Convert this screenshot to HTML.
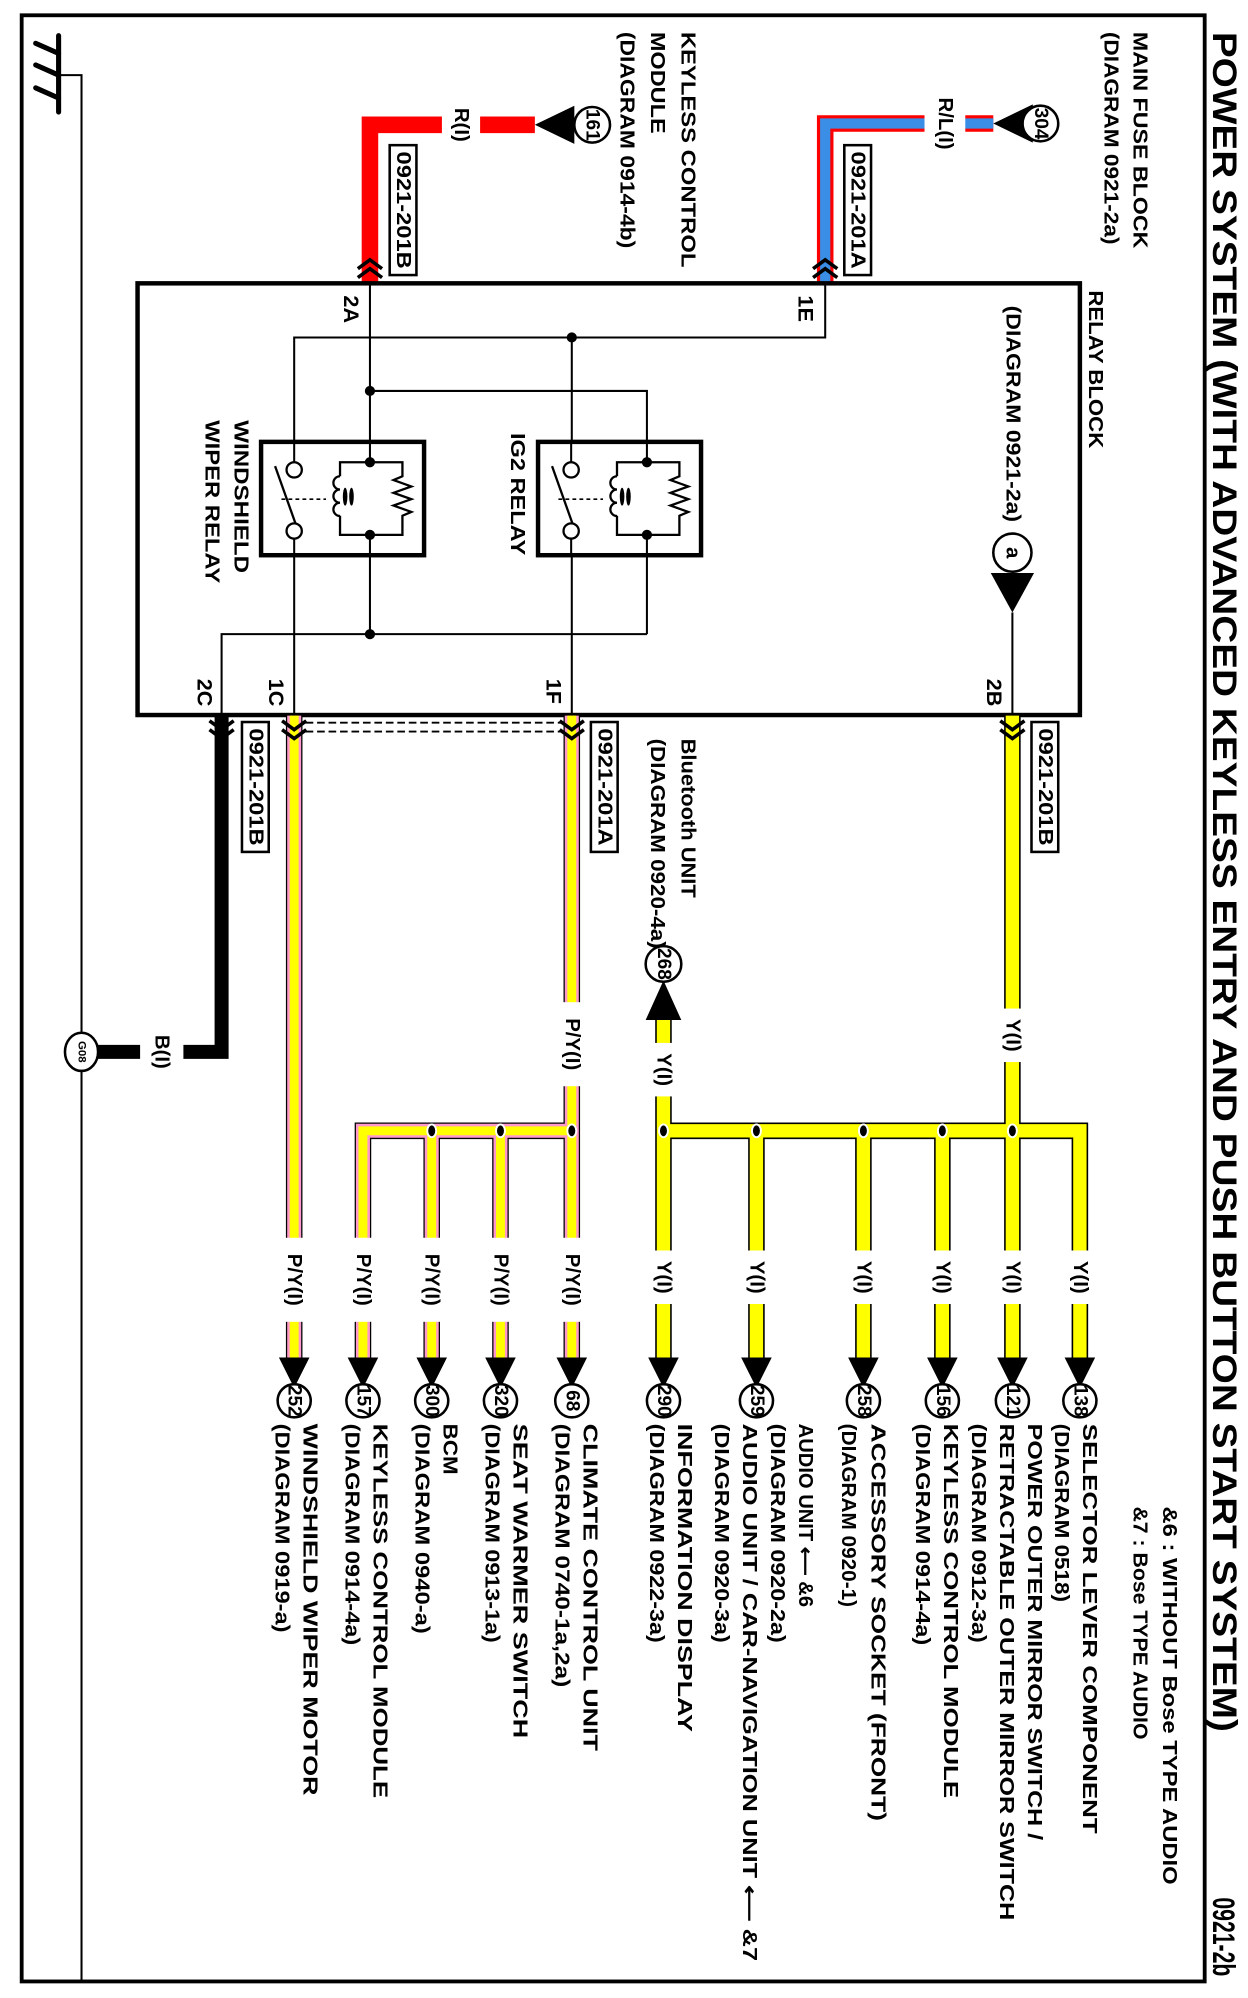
<!DOCTYPE html>
<html><head><meta charset="utf-8">
<style>
html,body{margin:0;padding:0;background:#fff;}
svg{display:block;}
.t{font-family:"Liberation Sans",Arial,sans-serif;font-weight:bold;fill:#000;dominant-baseline:central;}
.m{text-anchor:middle;}
</style></head>
<body>
<svg width="1248" height="1998" viewBox="0 0 980 1569" xmlns="http://www.w3.org/2000/svg">
<rect x="0" y="0" width="980" height="1569" fill="#fff"/>
<rect x="17" y="12" width="929" height="1544" fill="none" stroke="#000" stroke-width="3"/>
<g stroke="#000" stroke-width="4" stroke-linecap="round">
<line x1="46" y1="28" x2="46" y2="88"/>
<line x1="28" y1="34" x2="46" y2="42"/>
<line x1="28" y1="51" x2="46" y2="59"/>
<line x1="28" y1="69" x2="46" y2="77"/>
</g>
<path d="M46 59 H64 V1556" fill="none" stroke="#000" stroke-width="1.6"/>

<text class="t" font-size="27" transform="translate(961,25) rotate(90)" textLength="1335" lengthAdjust="spacingAndGlyphs">POWER SYSTEM (WITH ADVANCED KEYLESS ENTRY AND PUSH BUTTON START SYSTEM)</text>
<text class="t" font-size="25" transform="translate(961,1490) rotate(90)" textLength="62" lengthAdjust="spacingAndGlyphs">0921-2b</text>
<text class="t" font-size="16" transform="translate(918,1183) rotate(90)" textLength="297" lengthAdjust="spacingAndGlyphs">&amp;6 : WITHOUT Bose TYPE AUDIO</text>
<text class="t" font-size="16" transform="translate(895,1183) rotate(90)" textLength="183" lengthAdjust="spacingAndGlyphs">&amp;7 : Bose TYPE AUDIO</text>

<text class="t" font-size="16" transform="translate(895,25) rotate(90)" textLength="170" lengthAdjust="spacingAndGlyphs">MAIN FUSE BLOCK</text>
<text class="t" font-size="16" transform="translate(872,25) rotate(90)" textLength="167" lengthAdjust="spacingAndGlyphs">(DIAGRAM 0921-2a)</text>
<text class="t" font-size="16" transform="translate(860,228) rotate(90)" textLength="124" lengthAdjust="spacingAndGlyphs">RELAY BLOCK</text>
<text class="t" font-size="16" transform="translate(795,240) rotate(90)" textLength="170" lengthAdjust="spacingAndGlyphs">(DIAGRAM 0921-2a)</text>
<text class="t" font-size="16" transform="translate(540,25) rotate(90)" textLength="185" lengthAdjust="spacingAndGlyphs">KEYLESS CONTROL</text>
<text class="t" font-size="16" transform="translate(516,25) rotate(90)" textLength="80" lengthAdjust="spacingAndGlyphs">MODULE</text>
<text class="t" font-size="16" transform="translate(492,25) rotate(90)" textLength="170" lengthAdjust="spacingAndGlyphs">(DIAGRAM 0914-4b)</text>
<text class="t" font-size="16" transform="translate(540,580) rotate(90)" textLength="125" lengthAdjust="spacingAndGlyphs">Bluetooth UNIT</text>
<text class="t" font-size="16" transform="translate(516,580) rotate(90)" textLength="165" lengthAdjust="spacingAndGlyphs">(DIAGRAM 0920-4a)</text>

<path d="M420 98 H290.5 V222" fill="none" stroke="#f00" stroke-width="13"/>
<path d="M780 97 H648 V222" fill="none" stroke="#f00" stroke-width="13"/>
<path d="M780 97 H648 V222" fill="none" stroke="#3a8ee6" stroke-width="8"/>
<rect x="347" y="86" width="30" height="24" fill="#fff"/>
<rect x="726" y="85" width="32" height="24" fill="#fff"/>
<text class="t m" font-size="16" transform="translate(362,98) rotate(90)">R(I)</text>
<text class="t m" font-size="16" transform="translate(742,97) rotate(90)">R/L(I)</text>
<polygon points="420,98 451,83 451,113" fill="#000"/>
<circle cx="465" cy="98" r="14" fill="#fff" stroke="#000" stroke-width="2"/>
<text class="t m" font-size="15" transform="translate(465,98) rotate(90)">161</text>
<polygon points="780,97 811,82 811,112" fill="#000"/>
<circle cx="817" cy="97" r="14" fill="#fff" stroke="#000" stroke-width="2"/>
<text class="t m" font-size="15" transform="translate(817,97) rotate(90)">304</text>
<rect x="306" y="114" width="21" height="102" fill="#fff" stroke="#000" stroke-width="2"/>
<text class="t m" font-size="16" transform="translate(316.5,165) rotate(90)" textLength="92" lengthAdjust="spacingAndGlyphs">0921-201B</text>
<rect x="663" y="114" width="21" height="102" fill="#fff" stroke="#000" stroke-width="2"/>
<text class="t m" font-size="16" transform="translate(673.5,165) rotate(90)" textLength="92" lengthAdjust="spacingAndGlyphs">0921-201A</text>
<g fill="none" stroke="#000" stroke-width="2.8">
<polyline points="281,211 290.5,204 300,211"/><polyline points="281,218 290.5,211 300,218"/>
<polyline points="638.5,211 648,204 657.5,211"/><polyline points="638.5,218 648,211 657.5,218"/>
</g>

<rect x="108" y="222.5" width="740" height="339" fill="none" stroke="#000" stroke-width="3.5"/>
<g fill="none" stroke="#000" stroke-width="1.6">
<path d="M648 222 V265 H231 V363"/>
<path d="M449 265 V363"/>
<path d="M290.5 222 V498"/>
<path d="M290.5 307 H508 V498"/>
<path d="M174 561 V498 H508"/>
<path d="M231 423 V561"/>
<path d="M449 423 V561"/>
<path d="M795 481 V561"/>
</g>
<g fill="#000">
<circle cx="449" cy="265" r="4"/><circle cx="290.5" cy="307" r="4"/><circle cx="290.5" cy="498" r="4"/>
</g>
<g id="rel">
<rect x="205" y="347" width="128" height="89" fill="#fff" stroke="#000" stroke-width="3.5"/>
<path d="M231 347 V363" stroke="#000" stroke-width="1.6"/>
<path d="M231 423 V436" stroke="#000" stroke-width="1.6"/>
<path d="M290.5 347 V363 M290.5 420 V436" stroke="#000" stroke-width="1.6"/>
<circle cx="231" cy="369" r="6" fill="#fff" stroke="#000" stroke-width="1.8"/>
<circle cx="231" cy="417" r="6" fill="#fff" stroke="#000" stroke-width="1.8"/>
<line x1="216" y1="366" x2="232" y2="411" stroke="#000" stroke-width="1.8"/>
<line x1="221" y1="392" x2="256" y2="392" stroke="#000" stroke-width="1.3" stroke-dasharray="3,2.5"/>
<path d="M267 374 V363 H316 V374 L309 377 L323 382 L309 387 L323 392 L309 397 L323 402 L316 405 V420 H267 V405" fill="none" stroke="#000" stroke-width="1.8"/>
<path d="M267 374 a5.2 5.2 0 0 0 0 10.4 a5.2 5.2 0 0 0 0 10.4 a5.2 5.2 0 0 0 0 10.4" fill="none" stroke="#000" stroke-width="1.8"/>
<ellipse cx="271" cy="390" rx="1.8" ry="7" fill="#000"/>
<ellipse cx="276" cy="390" rx="1.8" ry="7" fill="#000"/>
<circle cx="290.5" cy="363" r="4" fill="#000"/>
<circle cx="290.5" cy="420" r="4" fill="#000"/>
</g>
<use href="#rel" transform="translate(217.5,0)"/>
<text class="t" font-size="16" transform="translate(189,330) rotate(90)" textLength="120" lengthAdjust="spacingAndGlyphs">WINDSHIELD</text>
<text class="t" font-size="16" transform="translate(166,330) rotate(90)" textLength="128" lengthAdjust="spacingAndGlyphs">WIPER RELAY</text>
<text class="t" font-size="16" transform="translate(406,340) rotate(90)" textLength="96" lengthAdjust="spacingAndGlyphs">IG2 RELAY</text>
<circle cx="795" cy="434" r="15" fill="#fff" stroke="#000" stroke-width="2"/>
<text class="t m" font-size="16" transform="translate(795,434) rotate(90)">a</text>
<polygon points="778,450 812,450 795,481" fill="#000"/>
<text class="t" font-size="17" transform="translate(276,232) rotate(90)">2A</text>
<text class="t" font-size="17" transform="translate(633,232) rotate(90)">1E</text>
<text class="t" font-size="17" transform="translate(161,533) rotate(90)">2C</text>
<text class="t" font-size="17" transform="translate(217,533) rotate(90)">1C</text>
<text class="t" font-size="17" transform="translate(435,533) rotate(90)">1F</text>
<text class="t" font-size="17" transform="translate(781,533) rotate(90)">2B</text>

<path d="M174 562 V826 H76" fill="none" stroke="#000" stroke-width="11"/>
<rect x="110" y="812" width="34" height="28" fill="#fff"/>
<text class="t m" font-size="16" transform="translate(127,826) rotate(90)">B(I)</text>
<ellipse cx="64" cy="826" rx="13" ry="15" fill="#fff" stroke="#000" stroke-width="2"/>
<text class="t m" font-size="9" transform="translate(64,826) rotate(90)">G08</text>

<g fill="none" stroke="#000" stroke-width="13" stroke-linejoin="miter">
<path d="M795 562 V1066"/>
<path d="M521 800 V1066"/>
<path d="M521 888 H848 V1066"/>
<path d="M594 888 V1066 M678 888 V1066 M740 888 V1066"/>
<path d="M231 562 V1066"/>
<path d="M449 562 V1066"/>
<path d="M449 888 H285 V1066"/>
<path d="M339 888 V1066 M393 888 V1066"/>
</g>
<g fill="none" stroke="#f9c" stroke-width="11">
<path d="M231 562 V1066"/>
<path d="M449 562 V1066"/>
<path d="M449 888 H285 V1066"/>
<path d="M339 888 V1066 M393 888 V1066"/>
</g>
<g fill="none" stroke="#ff0" stroke-width="10.5">
<path d="M795 562 V1066"/>
<path d="M521 800 V1066"/>
<path d="M521 888 H848 V1066"/>
<path d="M594 888 V1066 M678 888 V1066 M740 888 V1066"/>
</g>
<g fill="none" stroke="#ff0" stroke-width="7">
<path d="M231 562 V1066"/>
<path d="M449 562 V1066"/>
<path d="M449 888 H285 V1066"/>
<path d="M339 888 V1066 M393 888 V1066"/>
</g>
<g fill="#000" stroke="#fff" stroke-width="1.5">
<ellipse cx="521" cy="888" rx="3.5" ry="5"/><ellipse cx="594" cy="888" rx="3.5" ry="5"/>
<ellipse cx="678" cy="888" rx="3.5" ry="5"/><ellipse cx="740" cy="888" rx="3.5" ry="5"/>
<ellipse cx="795" cy="888" rx="3.5" ry="5"/>
<ellipse cx="339" cy="888" rx="3.5" ry="5"/><ellipse cx="393" cy="888" rx="3.5" ry="5"/>
<ellipse cx="449" cy="888" rx="3.5" ry="5"/>
</g>
<g fill="#fff">
<rect x="783" y="792" width="24" height="42"/>
<rect x="509" y="819" width="24" height="42"/>
<rect x="437" y="787" width="24" height="66"/>
<rect x="219" y="972" width="24" height="66"/><rect x="273" y="972" width="24" height="66"/>
<rect x="327" y="972" width="24" height="66"/><rect x="381" y="972" width="24" height="66"/>
<rect x="437" y="972" width="24" height="66"/>
<rect x="509" y="982" width="24" height="42"/><rect x="582" y="982" width="24" height="42"/>
<rect x="666" y="982" width="24" height="42"/><rect x="728" y="982" width="24" height="42"/>
<rect x="783" y="982" width="24" height="42"/><rect x="836" y="982" width="24" height="42"/>
</g>
<g font-size="16">
<text class="t m" transform="translate(795,813) rotate(90)">Y(I)</text>
<text class="t m" transform="translate(521,840) rotate(90)">Y(I)</text>
<text class="t m" transform="translate(449,820) rotate(90)">P/Y(I)</text>
<text class="t m" transform="translate(231,1005) rotate(90)">P/Y(I)</text>
<text class="t m" transform="translate(285,1005) rotate(90)">P/Y(I)</text>
<text class="t m" transform="translate(339,1005) rotate(90)">P/Y(I)</text>
<text class="t m" transform="translate(393,1005) rotate(90)">P/Y(I)</text>
<text class="t m" transform="translate(449,1005) rotate(90)">P/Y(I)</text>
<text class="t m" transform="translate(521,1003) rotate(90)">Y(I)</text>
<text class="t m" transform="translate(594,1003) rotate(90)">Y(I)</text>
<text class="t m" transform="translate(678,1003) rotate(90)">Y(I)</text>
<text class="t m" transform="translate(740,1003) rotate(90)">Y(I)</text>
<text class="t m" transform="translate(795,1003) rotate(90)">Y(I)</text>
<text class="t m" transform="translate(848,1003) rotate(90)">Y(I)</text>
</g>
<g fill="none" stroke="#000" stroke-width="2.8">
<polyline points="164.5,566 174,573 183.5,566"/><polyline points="164.5,573 174,580 183.5,573"/>
<polyline points="221.5,566 231,573 240.5,566"/><polyline points="221.5,573 231,580 240.5,573"/>
<polyline points="439.5,566 449,573 458.5,566"/><polyline points="439.5,573 449,580 458.5,573"/>
<polyline points="785.5,566 795,573 804.5,566"/><polyline points="785.5,573 795,580 804.5,573"/>
</g>
<g fill="none" stroke="#000" stroke-width="1.5" stroke-dasharray="6,3">
<line x1="240" y1="567.5" x2="441" y2="567.5"/>
<line x1="240" y1="574.5" x2="441" y2="574.5"/>
</g>
<rect x="190" y="567" width="21" height="102" fill="#fff" stroke="#000" stroke-width="2"/>
<text class="t m" font-size="16" transform="translate(200.5,618) rotate(90)" textLength="92" lengthAdjust="spacingAndGlyphs">0921-201B</text>
<rect x="464" y="567" width="21" height="102" fill="#fff" stroke="#000" stroke-width="2"/>
<text class="t m" font-size="16" transform="translate(474.5,618) rotate(90)" textLength="92" lengthAdjust="spacingAndGlyphs">0921-201A</text>
<rect x="810" y="567" width="21" height="102" fill="#fff" stroke="#000" stroke-width="2"/>
<text class="t m" font-size="16" transform="translate(820.5,618) rotate(90)" textLength="92" lengthAdjust="spacingAndGlyphs">0921-201B</text>

<polygon points="521,770 507,801 535,801" fill="#000"/>
<circle cx="521" cy="757" r="14" fill="#fff" stroke="#000" stroke-width="2"/>
<text class="t m" font-size="15" transform="translate(521,757) rotate(90)">268</text>

<g fill="#000">
<polygon points="219,1066 243,1066 231,1090"/><polygon points="273,1066 297,1066 285,1090"/>
<polygon points="327,1066 351,1066 339,1090"/><polygon points="381,1066 405,1066 393,1090"/>
<polygon points="437,1066 461,1066 449,1090"/><polygon points="509,1066 533,1066 521,1090"/>
<polygon points="582,1066 606,1066 594,1090"/><polygon points="666,1066 690,1066 678,1090"/>
<polygon points="728,1066 752,1066 740,1090"/><polygon points="783,1066 807,1066 795,1090"/>
<polygon points="836,1066 860,1066 848,1090"/>
</g>
<g fill="#fff" stroke="#000" stroke-width="2">
<circle cx="231" cy="1100" r="13"/><circle cx="285" cy="1100" r="13"/><circle cx="339" cy="1100" r="13"/>
<circle cx="393" cy="1100" r="13"/><circle cx="449" cy="1100" r="13"/><circle cx="521" cy="1100" r="13"/>
<circle cx="594" cy="1100" r="13"/><circle cx="678" cy="1100" r="13"/><circle cx="740" cy="1100" r="13"/>
<circle cx="795" cy="1100" r="13"/><circle cx="848" cy="1100" r="13"/>
</g>
<g font-size="15">
<text class="t m" transform="translate(231,1100) rotate(90)">252</text>
<text class="t m" transform="translate(285,1100) rotate(90)">157</text>
<text class="t m" transform="translate(339,1100) rotate(90)">300</text>
<text class="t m" transform="translate(393,1100) rotate(90)">320</text>
<text class="t m" transform="translate(449,1100) rotate(90)">68</text>
<text class="t m" transform="translate(521,1100) rotate(90)">290</text>
<text class="t m" transform="translate(594,1100) rotate(90)">259</text>
<text class="t m" transform="translate(678,1100) rotate(90)">258</text>
<text class="t m" transform="translate(740,1100) rotate(90)">156</text>
<text class="t m" transform="translate(795,1100) rotate(90)">121</text>
<text class="t m" transform="translate(848,1100) rotate(90)">138</text>
</g>

<g font-size="16">
<text class="t" transform="translate(855,1118) rotate(90)" textLength="322" lengthAdjust="spacingAndGlyphs">SELECTOR LEVER COMPONENT</text>
<text class="t" transform="translate(833,1118) rotate(90)" textLength="140" lengthAdjust="spacingAndGlyphs">(DIAGRAM 0518)</text>
<text class="t" transform="translate(812,1118) rotate(90)" textLength="327" lengthAdjust="spacingAndGlyphs">POWER OUTER MIRROR SWITCH /</text>
<text class="t" transform="translate(790,1118) rotate(90)" textLength="390" lengthAdjust="spacingAndGlyphs">RETRACTABLE OUTER MIRROR SWITCH</text>
<text class="t" transform="translate(768,1118) rotate(90)" textLength="172" lengthAdjust="spacingAndGlyphs">(DIAGRAM 0912-3a)</text>
<text class="t" transform="translate(746,1118) rotate(90)" textLength="294" lengthAdjust="spacingAndGlyphs">KEYLESS CONTROL MODULE</text>
<text class="t" transform="translate(724,1118) rotate(90)" textLength="174" lengthAdjust="spacingAndGlyphs">(DIAGRAM 0914-4a)</text>
<text class="t" transform="translate(689,1118) rotate(90)" textLength="312" lengthAdjust="spacingAndGlyphs">ACCESSORY SOCKET (FRONT)</text>
<text class="t" transform="translate(666,1118) rotate(90)" textLength="144" lengthAdjust="spacingAndGlyphs">(DIAGRAM 0920-1)</text>
<text class="t" transform="translate(632,1118) rotate(90)" textLength="144" lengthAdjust="spacingAndGlyphs">AUDIO UNIT ⟵ &amp;6</text>
<text class="t" transform="translate(610,1118) rotate(90)" textLength="172" lengthAdjust="spacingAndGlyphs">(DIAGRAM 0920-2a)</text>
<text class="t" transform="translate(588,1118) rotate(90)" textLength="422" lengthAdjust="spacingAndGlyphs">AUDIO UNIT / CAR-NAVIGATION UNIT ⟵ &amp;7</text>
<text class="t" transform="translate(566,1118) rotate(90)" textLength="172" lengthAdjust="spacingAndGlyphs">(DIAGRAM 0920-3a)</text>
<text class="t" transform="translate(537,1118) rotate(90)" textLength="242" lengthAdjust="spacingAndGlyphs">INFORMATION DISPLAY</text>
<text class="t" transform="translate(515,1118) rotate(90)" textLength="172" lengthAdjust="spacingAndGlyphs">(DIAGRAM 0922-3a)</text>
<text class="t" transform="translate(463,1118) rotate(90)" textLength="257" lengthAdjust="spacingAndGlyphs">CLIMATE CONTROL UNIT</text>
<text class="t" transform="translate(441,1118) rotate(90)" textLength="207" lengthAdjust="spacingAndGlyphs">(DIAGRAM 0740-1a,2a)</text>
<text class="t" transform="translate(408,1118) rotate(90)" textLength="247" lengthAdjust="spacingAndGlyphs">SEAT WARMER SWITCH</text>
<text class="t" transform="translate(386,1118) rotate(90)" textLength="172" lengthAdjust="spacingAndGlyphs">(DIAGRAM 0913-1a)</text>
<text class="t" transform="translate(353,1118) rotate(90)" textLength="40" lengthAdjust="spacingAndGlyphs">BCM</text>
<text class="t" transform="translate(331,1118) rotate(90)" textLength="165" lengthAdjust="spacingAndGlyphs">(DIAGRAM 0940-a)</text>
<text class="t" transform="translate(298,1118) rotate(90)" textLength="294" lengthAdjust="spacingAndGlyphs">KEYLESS CONTROL MODULE</text>
<text class="t" transform="translate(276,1118) rotate(90)" textLength="174" lengthAdjust="spacingAndGlyphs">(DIAGRAM 0914-4a)</text>
<text class="t" transform="translate(243,1118) rotate(90)" textLength="292" lengthAdjust="spacingAndGlyphs">WINDSHIELD WIPER MOTOR</text>
<text class="t" transform="translate(221,1118) rotate(90)" textLength="164" lengthAdjust="spacingAndGlyphs">(DIAGRAM 0919-a)</text>
</g>
</svg>
</body></html>
